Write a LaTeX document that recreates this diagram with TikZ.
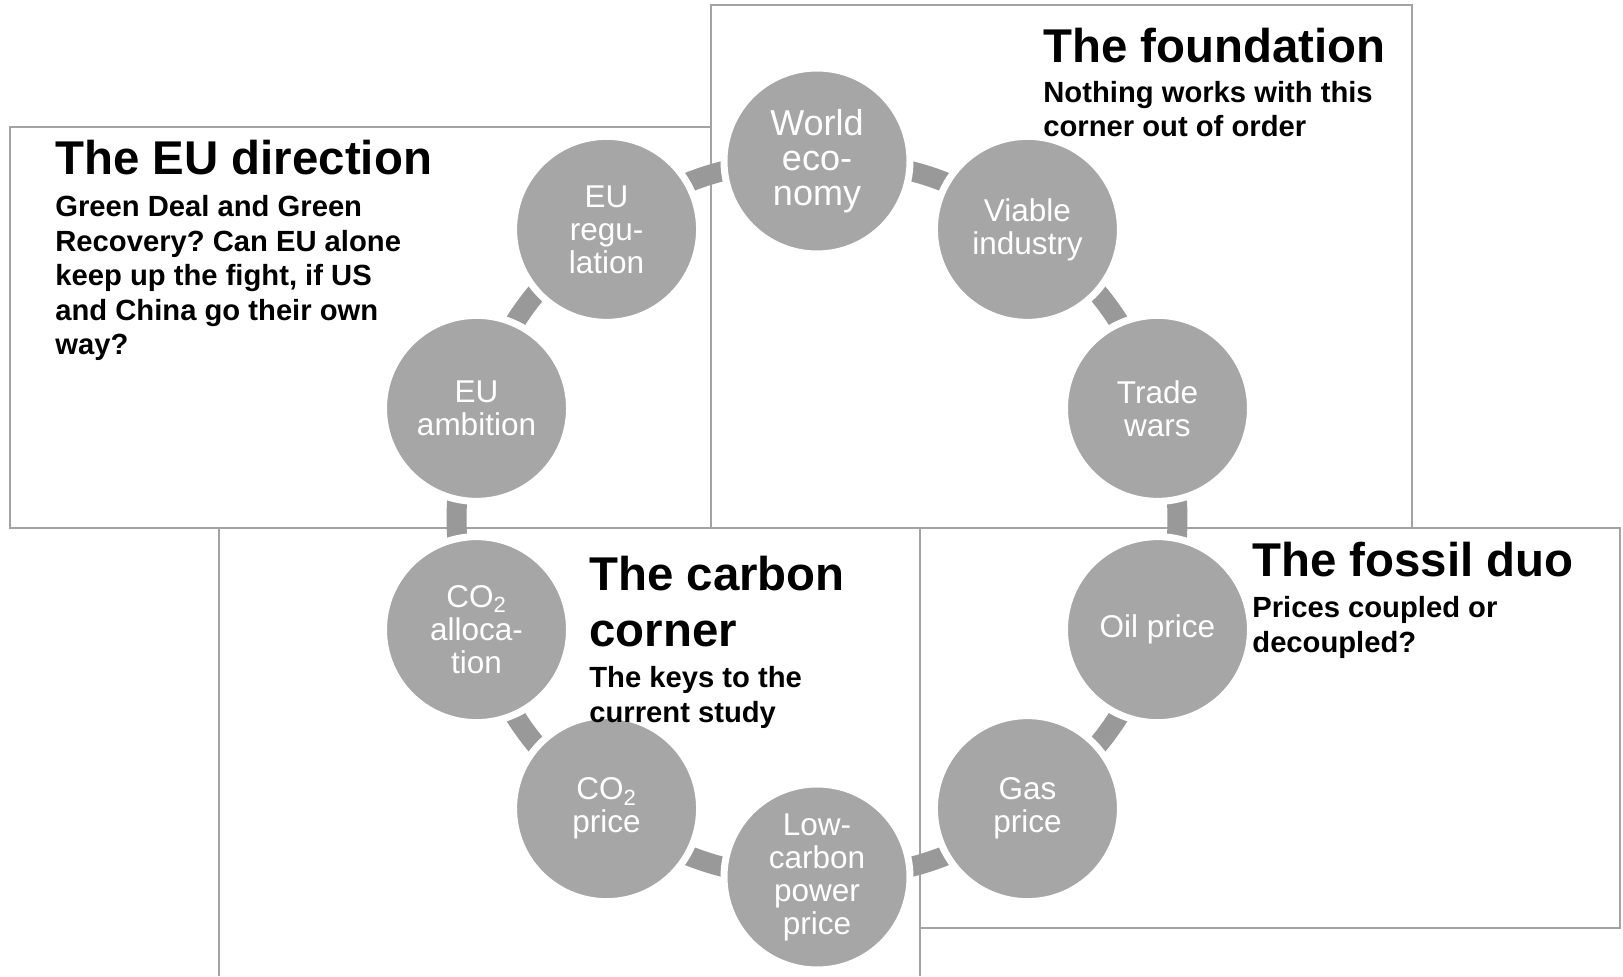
\documentclass[tikz,border=0pt]{standalone}
\usepackage{fontspec}
\setmainfont{Liberation Sans}
\usetikzlibrary{backgrounds}
\frenchspacing

\definecolor{bubblegray}{HTML}{A6A6A6}
\definecolor{linkgray}{HTML}{999999}
\definecolor{framegray}{HTML}{A3A3A3}

\tikzset{
	bubble/.style={circle, fill=bubblegray, draw=white, line width=3.5pt, minimum size=93pt, inner sep=0pt, text=white, align=center, font=\fontsize{15.75}{16.5}\selectfont},
	link/.style={draw=linkgray, line width=10pt},
	frame/.style={draw=framegray, line width=1pt, fill=white},
	headline/.style={anchor=base west, inner sep=0pt, align=left, font=\bfseries\fontsize{23.7}{28}\selectfont},
	blurb/.style={anchor=base west, inner sep=0pt, align=left, font=\bfseries\fontsize{14.6}{17.25}\selectfont}
}

\begin{document}
\begin{tikzpicture}[x=0.5pt,y=0.5pt]
	\def\cx{817};
	\def\cy{457};
	\def\rr{358};
	\useasboundingbox (0,0) rectangle (1623,976);
	% the ring of ten bubbles
	\node[bubble, font=\fontsize{18}{17.4}\selectfont] (world) at ({\cx+\rr*cos(90)},{\cy+\rr*sin(90)}) {World\\eco-\\nomy};
	\foreach \name/\ang/\txt in {viable/54/{Viable\\industry}, trade/18/{Trade\\wars}, oil/-18/{Oil price}, gas/-54/{Gas\\price}, lowcarbon/-90/{Low-\\carbon\\power\\price}, co2price/-126/{CO\textsubscript{2}\\price}, co2alloc/-162/{CO\textsubscript{2}\\alloca-\\tion}, euamb/162/{EU\\ambition}, eureg/126/{EU\\regu-\\lation}}
		\node[bubble] (\name) at ({\cx+\rr*cos(\ang)},{\cy+\rr*sin(\ang)}) {\txt};
	% frames and links behind the bubbles
	\begin{scope}[on background layer]
		\draw[frame] (10,448) rectangle (711,849);
		\draw[frame] (711,448) rectangle (1412,971);
		\draw[frame] (219,0) -- (219,448) -- (920,448) -- (920,0);
		\draw[frame] (920,48) rectangle (1620,448);
		\foreach \a/\b in {world/viable, viable/trade, trade/oil, oil/gas, gas/lowcarbon, lowcarbon/co2price, co2price/co2alloc, co2alloc/euamb, euamb/eureg, eureg/world}
			\draw[link] (\a.center) to[bend left=18] (\b.center);
	\end{scope}
	% corner texts (base = last line)
	\node[headline] (eutitle) at (55,801) {The EU direction};
	\node[blurb] (eutext) at (55,621) {Green Deal and Green\\Recovery? Can EU alone\\keep up the fight, if US\\and China go their own\\way?};
	\node[headline] (foundtitle) at (1043,913) {The foundation};
	\node[blurb] (foundtext) at (1043,839) {Nothing works with this\\corner out of order};
	\node[headline] (carbontitle) at (589,329) {The carbon\\corner};
	\node[blurb] (carbontext) at (589,254) {The keys to the\\current study};
	\node[headline] (fossiltitle) at (1252,400) {The fossil duo};
	\node[blurb] (fossiltext) at (1252,324) {Prices coupled or\\decoupled?};
\end{tikzpicture}
\end{document}
